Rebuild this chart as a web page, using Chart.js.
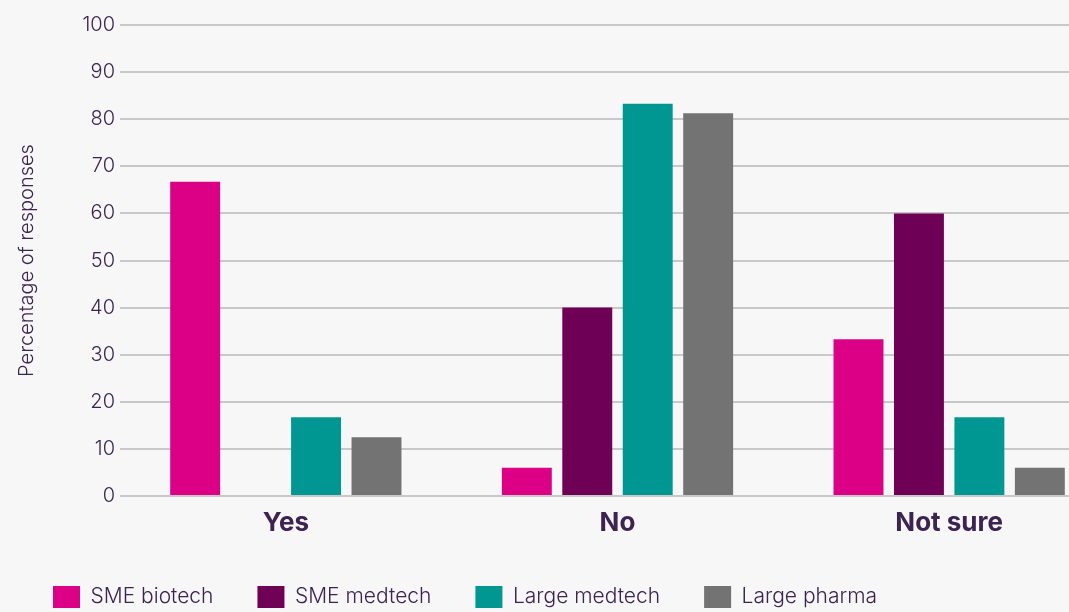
<!DOCTYPE html>
<html>
<head>
<meta charset="utf-8">
<script src="https://cdn.jsdelivr.net/npm/chart.js@4"></script>
<style>
  html, body { margin: 0; padding: 0; background: #f7f7f7; overflow: hidden; }
  #wrap { width: 1120px; height: 612px; }
</style>
</head>
<body>
<div id="wrap"><canvas id="chart"></canvas></div>
<script>
const categories = ['Yes', 'No', 'Not sure'];
const smeBiotech = [66.7, 6, 33.3];
const smeMedtech = [0, 40, 60];
const largeMedtech = [16.7, 83.3, 16.7];
const largePharma = [12.5, 81.25, 6];
const yTicks = [0, 10, 20, 30, 40, 50, 60, 70, 80, 90, 100];

const TEXT = '#3d2352';
const FONT = 'Inter, Lato, sans-serif';

// legend is kept short so the boxes sit below the axis labels
const legendHeight = {
    id: 'legendHeight',
    beforeInit(chart) {
        const fit = chart.legend.fit;
        chart.legend.fit = function () {
            fit.bind(chart.legend)();
            this.height = 70;
        };
    }
};

const makeSet = (label, data, color) => ({
    label: label,
    data: data,
    backgroundColor: color,
    borderWidth: 0,
    barPercentage: 0.826,
    categoryPercentage: 0.729
});

const ctx = document.getElementById('chart').getContext('2d');
new Chart(ctx, {
    type: 'bar',
    data: {
        labels: categories,
        datasets: [
            makeSet('SME biotech', smeBiotech, '#dc0087'),
            makeSet('SME medtech', smeMedtech, '#6e0055'),
            makeSet('Large medtech', largeMedtech, '#009692'),
            makeSet('Large pharma', largePharma, '#737373')
        ]
    },
    options: {
        responsive: true,
        maintainAspectRatio: false,
        animation: false,
        layout: { padding: { top: 25, left: 9, right: 5, bottom: 0 } },
        scales: {
            y: {
                min: 0,
                max: 100,
                afterBuildTicks: (scale) => { scale.ticks = yTicks.map(v => ({ value: v })); },
                afterFit: (scale) => { scale.width = 111; },
                border: { display: false },
                grid: { color: '#c8c8c8', lineWidth: 2, drawTicks: false },
                ticks: { color: TEXT, padding: 5, font: { family: FONT, size: 20, weight: 300 } },
                title: {
                    display: true,
                    text: 'Percentage of responses',
                    color: TEXT,
                    padding: 6,
                    font: { family: FONT, size: 20, weight: 300 }
                }
            },
            x: {
                afterFit: (scale) => { scale.height = 46; },
                border: { display: false },
                grid: { display: false },
                ticks: { color: TEXT, padding: 4, font: { family: FONT, size: 26, weight: 'bold' } }
            }
        },
        plugins: {
            tooltip: { enabled: false },
            legend: {
                position: 'bottom',
                align: 'start',
                labels: {
                    boxWidth: 27,
                    boxHeight: 22,
                    padding: 44,
                    color: TEXT,
                    font: { family: FONT, size: 21, weight: 300 }
                }
            }
        }
    },
    plugins: [legendHeight]
});
</script>
</body>
</html>
